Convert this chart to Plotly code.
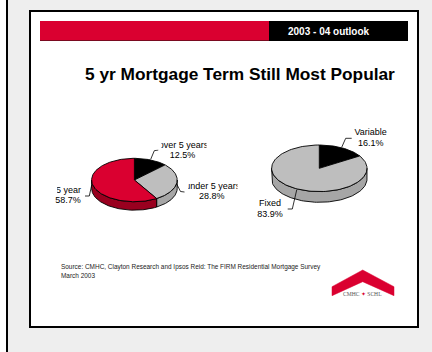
import numpy as np
import plotly.graph_objects as go

# Mortgage term shares (%)
term_labels = ["over 5 years", "under 5 years", "5 year"]
term_values = [12.5, 28.8, 58.7]
# Fixed versus variable rate shares (%)
rate_labels = ["Variable", "Fixed"]
rate_values = [16.1, 83.9]

RED = "#DA0030"
top_term = ["#000000", "#BEBEBE", RED]
side_term = ["#000000", "#A6A6A6", "#99001F"]
top_rate = ["#000000", "#BEBEBE"]
side_rate = ["#000000", "#A6A6A6"]

fig = go.Figure()


def add_poly(xs, ys, fill, line="#000000", width=0.9):
    fig.add_trace(go.Scatter(x=xs, y=ys, mode="lines", fill="toself", fillcolor=fill,
                             line=dict(color=line, width=width), hoverinfo="skip",
                             showlegend=False))


def add_pie(values, tops, sides, cx, cy, rx, ry, depth):
    """Tilted pie: values run clockwise from 12 o'clock, with a visible front wall."""
    edges = np.concatenate([[0], np.cumsum(values)]) / sum(values) * 2 * np.pi
    for i in range(len(values)):
        a, b = max(edges[i], np.pi / 2), min(edges[i + 1], 3 * np.pi / 2)
        if b > a:
            t = np.linspace(a, b, 80)
            x = cx + rx * np.sin(t)
            y = cy - ry * np.cos(t)
            add_poly(np.r_[x, x[::-1], x[0]], np.r_[y, y[::-1] + depth, y[0]], sides[i])
    for i in range(len(values)):
        t = np.linspace(edges[i], edges[i + 1], 120)
        add_poly(np.r_[cx, cx + rx * np.sin(t), cx], np.r_[cy, cy - ry * np.cos(t), cy], tops[i])


add_pie(term_values, top_term, side_term, 134.4, 180, 42.8, 21.7, 8.5)
add_pie(rate_values, top_rate, side_rate, 319.3, 168.3, 47.7, 23.3, 10.7)

# Leader lines from each slice to its label
leaders = [
    ([150.7, 154.3, 158.3], [159.3, 150.7, 150]),
    ([176.7, 180.5, 184.5], [184, 191.5, 192]),
    ([91.7, 89.3, 85], [185, 196, 196]),
    ([341.7, 345.7, 351.7], [147.3, 138.3, 138.3]),
    ([296.7, 292.3, 287.7], [190, 209, 209]),
]
for lx, ly in leaders:
    fig.add_trace(go.Scatter(x=lx, y=ly, mode="lines", line=dict(color="#000000", width=0.8),
                             hoverinfo="skip", showlegend=False))

# Red chevron of the logo
fig.add_trace(go.Scatter(
    x=[332, 362.7, 394, 394, 362.7, 332, 332], y=[286.7, 270, 286.7, 295.7, 281.7, 295.7, 286.7],
    mode="lines", fill="toself", fillcolor=RED, line=dict(color=RED, width=0.5),
    hoverinfo="skip", showlegend=False))


def slice_label(x, y, text):
    """Slice labels sit in the plot layer so the clip masks above them can trim their ends."""
    fig.add_trace(go.Scatter(x=[x], y=[y], mode="text", text=[text], textposition="middle center",
                             textfont=dict(family="Liberation Sans", size=9, color="#000000"),
                             hoverinfo="skip", showlegend=False))


slice_label(183.5, 146, term_labels[0])
slice_label(182.5, 155.7, f"{term_values[0]}%")
slice_label(212.8, 186.7, term_labels[1])
slice_label(211.7, 196.7, f"{term_values[1]}%")
slice_label(68.5, 190.7, term_labels[2])
slice_label(68, 201, f"{term_values[2]}%")
slice_label(370.7, 132.7, rate_labels[0])
slice_label(370.7, 143.7, f"{rate_values[0]}%")
slice_label(270, 204, rate_labels[1])
slice_label(270, 214.7, f"{rate_values[1]}%")


def rect(x0, y0, x1, y1, color, layer="below"):
    return dict(type="rect", xref="x", yref="y", x0=x0, y0=y0, x1=x1, y1=y1,
                fillcolor=color, line=dict(width=0), layer=layer)


shapes = [
    rect(8, 0, 432, 352, "#EEEEEE"),
    rect(6, 0, 8, 352, "#000000"),
    rect(29, 10, 419, 328, "#000000"),
    rect(31, 12, 417, 326, "#FFFFFF"),
    rect(40, 21, 269, 40.5, RED),
    rect(40, 40, 269, 41, "#7A0A20"),
    rect(269, 21, 408, 41, "#000000"),
    # Clip masks trimming the ends of the long slice labels
    rect(156, 141, 161.5, 149.5, "#FFFFFF", "above"),
    rect(206.5, 141, 212, 150.5, "#FFFFFF", "above"),
    rect(185, 181.5, 188.3, 191, "#FFFFFF", "above"),
    rect(237.5, 181.5, 243, 191.5, "#FFFFFF", "above"),
    rect(52, 185.5, 57.2, 195.5, "#FFFFFF", "above"),
]


def label(x, y, text, size=9, color="#000000", bold=False, align="center", anchor="center",
          family="Liberation Sans"):
    fig.add_annotation(x=x, y=y, text=f"<b>{text}</b>" if bold else text, showarrow=False,
                       xref="x", yref="y", xanchor=anchor, yanchor="middle", align=align,
                       font=dict(family=family, size=size, color=color))


label(328.5, 31.5, "2003 - 04 outlook", size=10, color="#FFFFFF", bold=True)
label(240, 73.5, "5 yr Mortgage Term Still Most Popular", size=17.3, color="#000000", bold=True)

label(59, 266.8, "Source: CMHC, Clayton Research and Ipsos Reid: The FIRM Residential Mortgage Survey",
      size=6.45, color="#222222", anchor="left")
label(59, 275.8, "March 2003", size=6.45, color="#222222", anchor="left")
label(362.7, 294.3, f"CMHC <span style='color:{RED}'>✦</span> SCHL", size=5.6, color="#555555",
      family="Liberation Serif")

fig.update_layout(
    width=432, height=352, margin=dict(l=0, r=0, t=0, b=0),
    paper_bgcolor="#FFFFFF", plot_bgcolor="rgba(0,0,0,0)", shapes=shapes, showlegend=False,
    xaxis=dict(range=[0, 432], visible=False, fixedrange=True),
    yaxis=dict(range=[352, 0], visible=False, fixedrange=True),
)
fig.write_html("out.html", config={"displayModeBar": False})
